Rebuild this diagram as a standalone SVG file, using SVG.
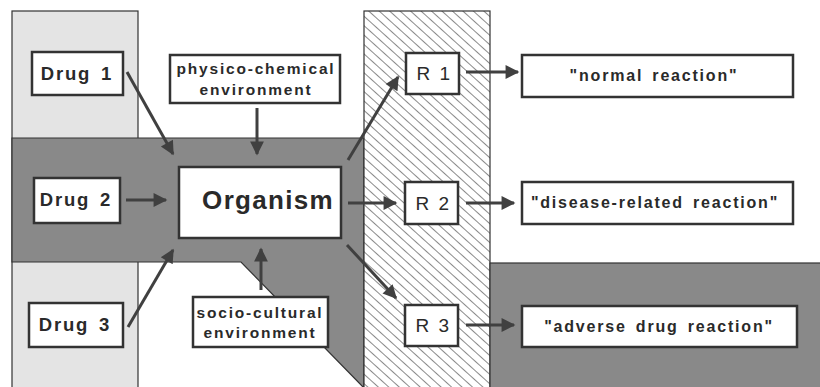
<svg xmlns="http://www.w3.org/2000/svg" width="820" height="387" viewBox="0 0 820 387">
  <defs>
    <style>
      .box { fill: #ffffff; stroke: #333333; stroke-width: 2.5; }
      .lbl { font-family: "Liberation Sans", Arial, sans-serif; font-weight: bold; fill: #2a2a2a; text-anchor: middle; }
      .drug { font-size: 18.5px; letter-spacing: 1.8px; word-spacing: 3px; }
      .env { font-size: 15.5px; letter-spacing: 1.8px; }
      .rx { font-size: 19px; font-weight: normal; letter-spacing: 1.5px; word-spacing: 1px; }
      .quote { font-size: 16px; letter-spacing: 1.8px; word-spacing: 3px; }
      .org { font-size: 26px; letter-spacing: 1.3px; }
      .conn line { stroke: #404040; stroke-width: 3; marker-end: url(#head); }
      .frame { stroke: #333333; stroke-width: 1.2; }
    </style>
    <marker id="head" viewBox="0 0 10 10" refX="9" refY="5" markerWidth="5.5" markerHeight="4.6" orient="auto" markerUnits="strokeWidth">
      <path d="M0,0 L10,5 L0,10 Z" fill="#404040"/>
    </marker>
    <pattern id="hatch" patternUnits="userSpaceOnUse" width="7" height="7" patternTransform="rotate(-48)">
      <rect width="7" height="7" fill="#ffffff"/>
      <line x1="0" y1="0" x2="0" y2="7" stroke="#3a3a3a" stroke-width="1.2"/>
    </pattern>
  </defs>

  <rect width="820" height="387" fill="#ffffff"/>

  <!-- background zones -->
  <rect class="frame" x="12" y="11" width="126" height="380" fill="#e4e4e4"/>
  <polygon class="frame" points="12,138 364,138 364,387 363,387 241,262 12,262" fill="#898989"/>
  <rect class="frame" x="364" y="11" width="126" height="380" fill="url(#hatch)"/>
  <rect class="frame" x="490" y="263" width="335" height="130" fill="#898989"/>

  <!-- connectors -->
  <g id="connectors" class="conn">
    <line x1="127" y1="72" x2="173" y2="154"/>
    <line x1="126" y1="200" x2="166" y2="200"/>
    <line x1="128" y1="327" x2="173" y2="250"/>
    <line x1="257" y1="108" x2="257" y2="154"/>
    <line x1="261" y1="290" x2="261" y2="249"/>
    <line x1="348" y1="160" x2="398" y2="77"/>
    <line x1="348" y1="203" x2="396" y2="203"/>
    <line x1="347" y1="245" x2="396" y2="298"/>
    <line x1="466" y1="72" x2="518" y2="72"/>
    <line x1="466" y1="203" x2="514" y2="203"/>
    <line x1="466" y1="325" x2="514" y2="325"/>
  </g>

  <!-- nodes -->
  <g id="drug1">
    <rect class="box" x="32" y="52" width="91" height="43"/>
    <text class="lbl drug" x="77" y="80">Drug 1</text>
  </g>
  <g id="drug2">
    <rect class="box" x="34" y="178" width="86" height="45"/>
    <text class="lbl drug" x="76" y="206">Drug 2</text>
  </g>
  <g id="drug3">
    <rect class="box" x="29" y="303" width="94" height="44"/>
    <text class="lbl drug" x="75" y="331">Drug 3</text>
  </g>
  <g id="physico">
    <rect class="box" x="170" y="55" width="170" height="48"/>
    <text class="lbl env" x="256" y="74">physico-chemical</text>
    <text class="lbl env" x="256" y="95">environment</text>
  </g>
  <g id="organism">
    <rect class="box" x="179" y="167" width="162" height="71"/>
    <text class="lbl org" x="268" y="209">Organism</text>
  </g>
  <g id="sociocultural">
    <rect class="box" x="193" y="297" width="135" height="50"/>
    <text class="lbl env" x="260" y="318">socio-cultural</text>
    <text class="lbl env" x="260" y="338">environment</text>
  </g>
  <g id="r1">
    <rect class="box" x="406" y="53" width="53" height="41"/>
    <text class="lbl rx" x="434" y="80">R 1</text>
  </g>
  <g id="r2">
    <rect class="box" x="405" y="182" width="53" height="42"/>
    <text class="lbl rx" x="433" y="210">R 2</text>
  </g>
  <g id="r3">
    <rect class="box" x="405" y="305" width="53" height="41"/>
    <text class="lbl rx" x="433" y="332">R 3</text>
  </g>
  <g id="normal">
    <rect class="box" x="522" y="55" width="271" height="42"/>
    <text class="lbl quote" x="654" y="81">"normal reaction"</text>
  </g>
  <g id="disease">
    <rect class="box" x="522" y="182" width="271" height="42"/>
    <text class="lbl quote" x="655" y="208">"disease-related reaction"</text>
  </g>
  <g id="adverse">
    <rect class="box" x="522" y="306" width="275" height="41"/>
    <text class="lbl quote" x="659" y="332">"adverse drug reaction"</text>
  </g>
</svg>
